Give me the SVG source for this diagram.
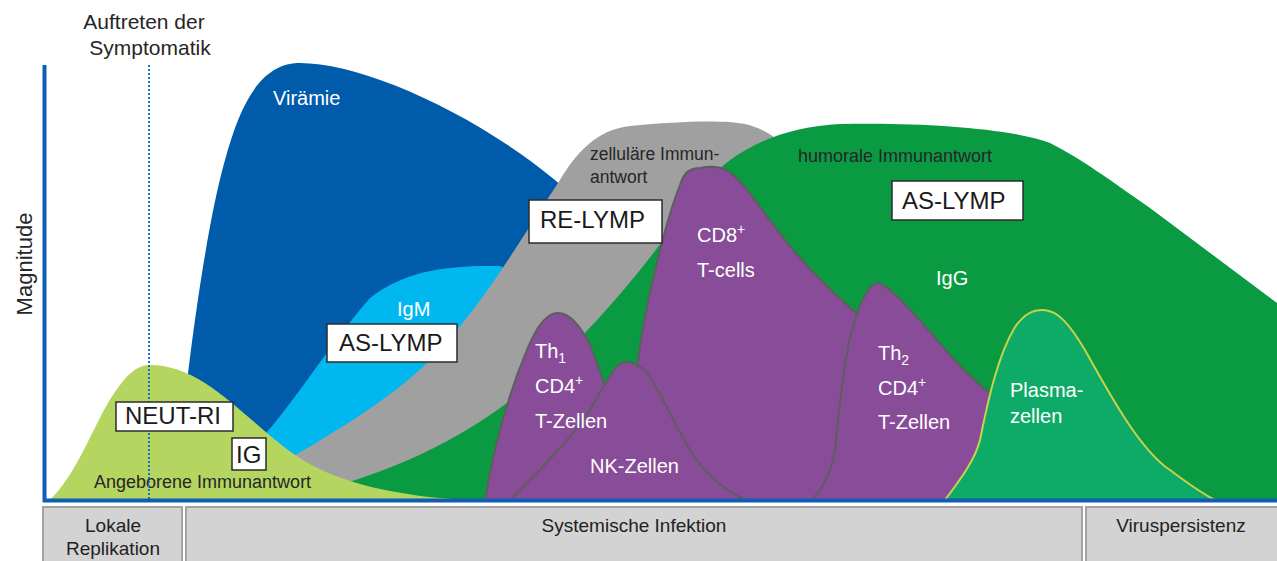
<svg xmlns="http://www.w3.org/2000/svg" width="1277" height="561" viewBox="0 0 1277 561">
<style>
text{font-family:"Liberation Sans",Arial,sans-serif}
.w{fill:#ffffff;font-size:20px}
.d{fill:#262626;font-size:17.5px}
.bx{fill:#ffffff;stroke:#2b2b2b;stroke-width:1.5}
.bt{fill:#1a1a1a;font-size:24px}
.pu{fill:#884C98;stroke:#5E5E5E;stroke-width:2;stroke-linejoin:round}
.bar{fill:#D3D3D3;stroke:#A3A3A3;stroke-width:2}
.bl{fill:#222222;font-size:19px;text-anchor:middle}
</style>
<rect width="1277" height="561" fill="#ffffff"/>

<g id="viraemie">
<path d="M175,500 C185,380 205,230 225,160 C240,105 260,63 300,63 C360,63 470,110 555,180 L620,240 L560,420 L300,440 Z" fill="#005CAB"/>
<text class="w" x="273" y="105">Virämie</text>
</g>

<g id="igm">
<path d="M255,445 C290,410 325,350 370,298 C405,270 450,265 500,266 L560,290 L420,420 L290,470 Z" fill="#00B8EF"/>
<text class="w" x="397" y="316">IgM</text>
</g>

<g id="zellulaer">
<path d="M270,470 C330,435 390,400 430,360 C480,310 520,240 560,180 C575,155 595,130 630,126 C680,121 725,120 745,124 C762,128 775,136 790,150 L805,500 L300,500 Z" fill="#A0A0A0"/>
<text class="d" x="590" y="160">zelluläre Immun-</text>
<text class="d" x="590" y="183">antwort</text>
</g>

<g id="humoral">
<path d="M300,500 L320,490 C400,470 470,435 530,385 C600,325 650,260 700,190 C730,150 780,127 840,124 C920,122 1010,128 1050,143 C1080,158 1110,180 1150,208 L1277,303 L1277,500 Z" fill="#0A9A42"/>
<text class="d" x="798" y="162" style="font-size:18px">humorale Immunantwort</text>
<text class="w" x="936" y="285">IgG</text>
</g>

<g id="angeboren">
<path d="M50,500 C80,470 95,420 115,392 C128,373 138,365 150,365 C205,365 245,420 295,455 C335,483 400,497 470,500 Z" fill="#B5D561"/>
<text class="d" x="94" y="488" style="font-size:18px">Angeborene Immunantwort</text>
</g>

<g id="th1">
<path class="pu" d="M485,500 C495,440 510,390 527,350 C537,325 548,313 558,313 C570,313 580,325 590,345 C600,370 608,395 615,420 L640,500 Z"/>
</g>

<g id="cd8">
<path class="pu" d="M620,500 L637,367 C642,330 648,300 653,280 C660,250 668,215 680,185 C684,172 690,168 700,168 C710,166 718,166 726,170 C745,180 770,225 800,258 C820,280 840,300 862,318 L900,400 L900,500 Z"/>
<text class="w" x="697" y="242">CD8<tspan font-size="14" dy="-8">+</tspan></text>
<text class="w" x="697" y="277">T-cells</text>
</g>

<g id="nk">
<path class="pu" d="M510,500 C540,470 570,440 590,410 C605,385 615,362 625,362 C632,362 640,366 645,370 C660,390 672,420 690,450 C705,475 725,490 745,500 Z"/>
<text class="w" x="535" y="358">Th<tspan font-size="14" dy="5">1</tspan></text>
<text class="w" x="535" y="393">CD4<tspan font-size="14" dy="-8">+</tspan></text>
<text class="w" x="535" y="428">T-Zellen</text>
<text class="w" x="590" y="473">NK-Zellen</text>
</g>

<g id="th2">
<path class="pu" d="M812,500 C825,485 832,470 835,450 C840,400 845,350 855,320 C862,298 870,284 878,283 C890,285 920,320 950,355 C965,372 985,392 1010,408 L990,500 Z"/>
<text class="w" x="878" y="360">Th<tspan font-size="14" dy="5">2</tspan></text>
<text class="w" x="878" y="395">CD4<tspan font-size="14" dy="-8">+</tspan></text>
<text class="w" x="878" y="429">T-Zellen</text>
</g>

<g id="plasma">
<path d="M945,500 C960,480 975,460 980,440 C988,400 998,355 1015,327 C1025,313 1033,310 1043,310 C1058,310 1070,325 1085,350 C1110,395 1140,450 1170,470 C1190,485 1205,495 1215,500 Z" fill="#0EAB68" stroke="#C8D24B" stroke-width="2"/>
<text class="w" x="1010" y="397">Plasma-</text>
<text class="w" x="1010" y="423">zellen</text>
</g>

<g id="connectors">
<line x1="149" y1="65" x2="149" y2="500" stroke="#1F6DC0" stroke-width="2" stroke-dasharray="2 2"/>
<line x1="44.5" y1="65" x2="44.5" y2="502" stroke="#0F5DB5" stroke-width="4"/>
<line x1="43" y1="500.5" x2="1277" y2="500.5" stroke="#0F5DB5" stroke-width="4"/>
</g>

<g id="box-neut">
<rect class="bx" x="116" y="402" width="117" height="29"/>
<text class="bt" x="125" y="424">NEUT-RI</text>
</g>
<g id="box-ig">
<rect class="bx" x="232" y="438" width="34" height="32"/>
<text class="bt" x="236" y="463">IG</text>
</g>
<g id="box-aslymp1">
<rect class="bx" x="327" y="324" width="130" height="38"/>
<text class="bt" x="339" y="351">AS-LYMP</text>
</g>
<g id="box-relymp">
<rect class="bx" x="529" y="200" width="133" height="43"/>
<text class="bt" x="540" y="228">RE-LYMP</text>
</g>
<g id="box-aslymp2">
<rect class="bx" x="892" y="181" width="131" height="39"/>
<text class="bt" x="902" y="209">AS-LYMP</text>
</g>

<g id="symptom">
<text x="144" y="29" style="font-size:21px;fill:#262626;text-anchor:middle">Auftreten der</text>
<text x="150" y="55" style="font-size:21px;fill:#262626;text-anchor:middle">Symptomatik</text>
</g>
<g id="magnitude">
<text transform="translate(32,264) rotate(-90)" style="font-size:22px;fill:#262626;text-anchor:middle">Magnitude</text>
</g>

<g id="phase-lokal">
<rect class="bar" x="43" y="507" width="139" height="56"/>
<text class="bl" x="113" y="532">Lokale</text>
<text class="bl" x="113" y="555">Replikation</text>
</g>
<g id="phase-system">
<rect class="bar" x="186" y="507" width="896" height="56"/>
<text class="bl" x="634" y="532">Systemische Infektion</text>
</g>
<g id="phase-persist">
<rect class="bar" x="1086" y="507" width="194" height="56"/>
<text class="bl" x="1181" y="532">Viruspersistenz</text>
</g>
</svg>
